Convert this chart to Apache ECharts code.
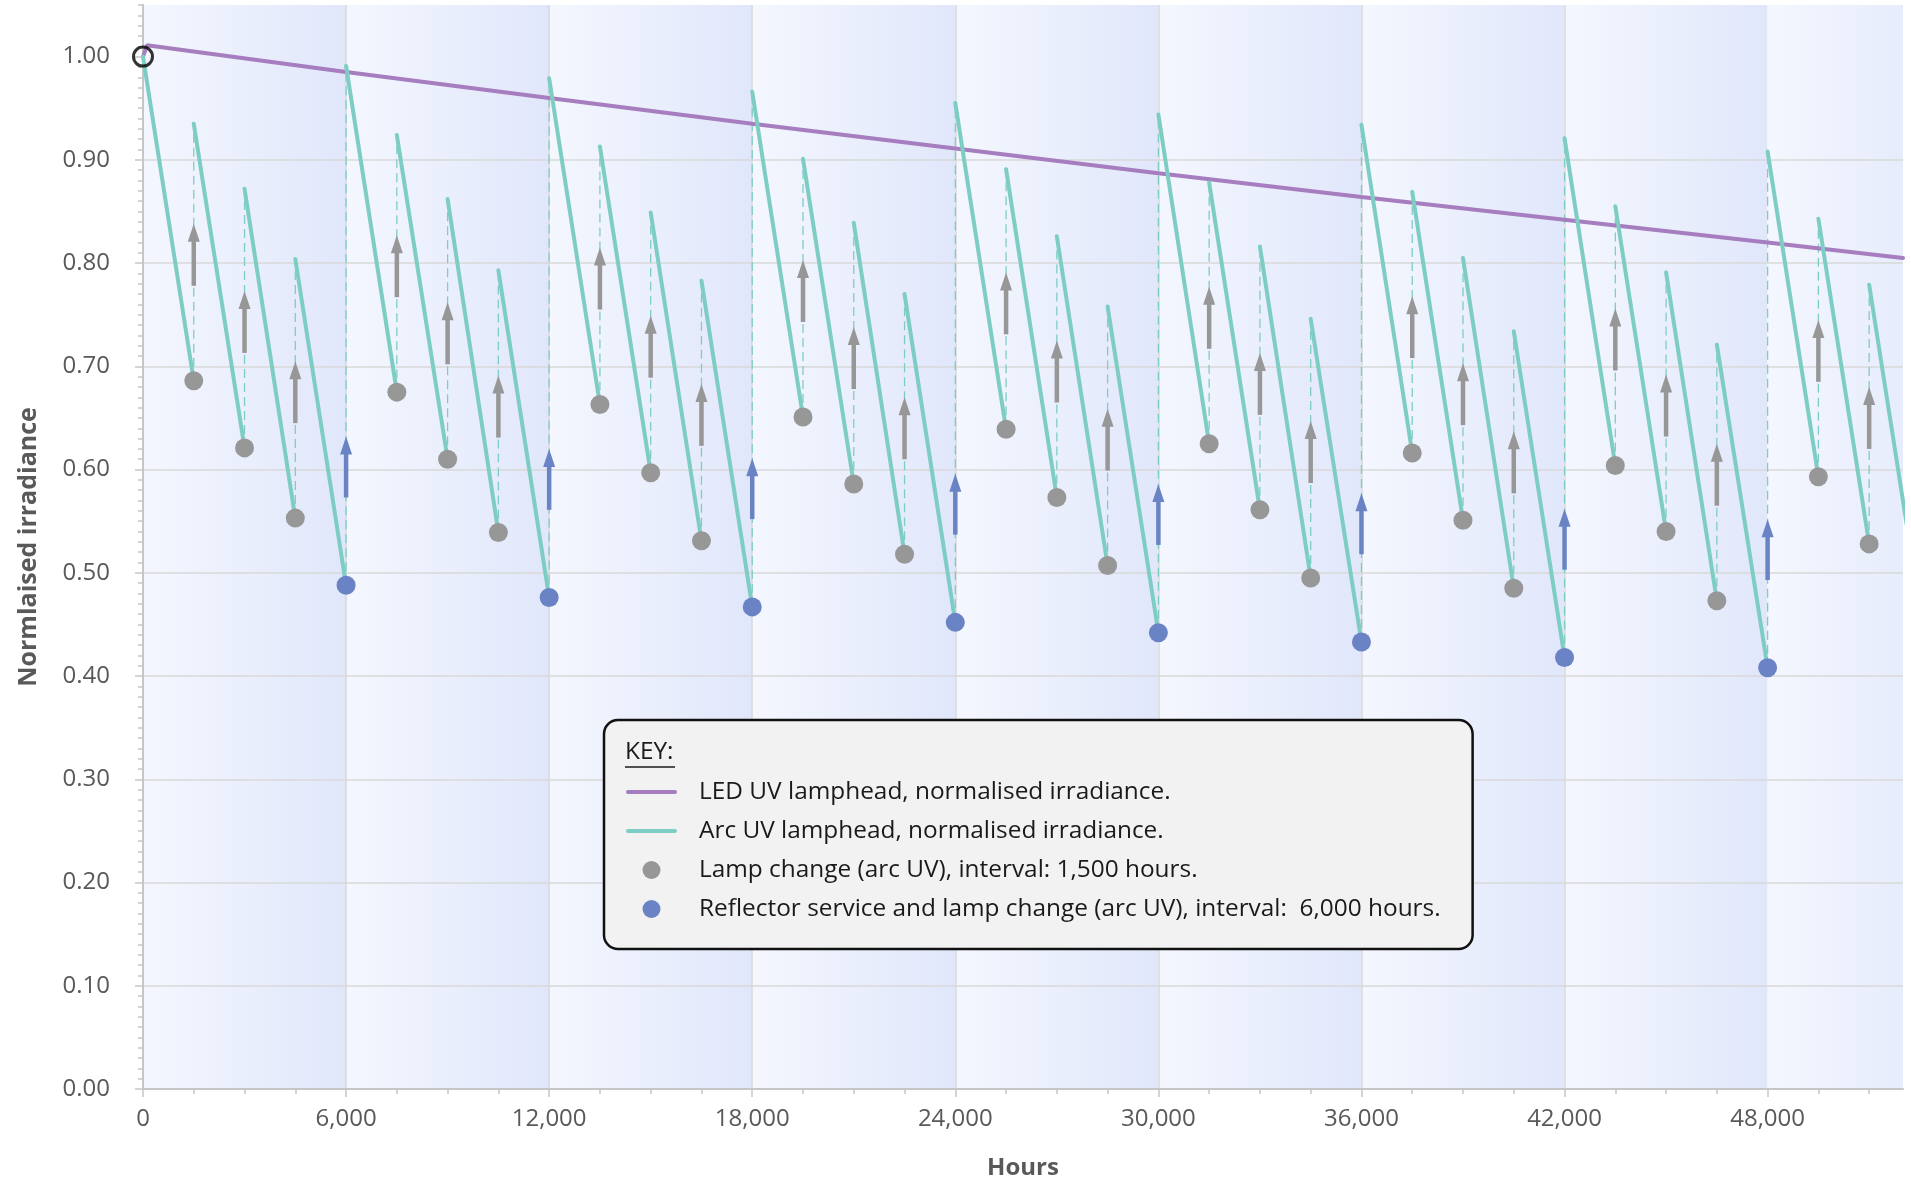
<!DOCTYPE html>
<html>
<head>
<meta charset="utf-8">
<script src="https://cdn.jsdelivr.net/npm/echarts@6/dist/echarts.min.js"></script>
<style>
html,body{margin:0;padding:0;background:#ffffff;}
#chart{width:1911px;height:1179px;}
</style>
</head>
<body>
<div id="chart"></div>
<script>
// ---------------- DATA ----------------
// Arc UV sawtooth: each segment starts at a peak and decays until the next lamp change
const segmentStartHours = [0,1500,3000,4500,6000,7500,9000,10500,12000,13500,15000,16500,18000,19500,21000,22500,24000,25500,27000,28500,30000,31500,33000,34500,36000,37500,39000,40500,42000,43500,45000,46500,48000,49500,51000];
const segmentPeak = [1.000,0.935,0.872,0.804,0.991,0.924,0.862,0.793,0.979,0.913,0.849,0.783,0.966,0.901,0.839,0.770,0.955,0.891,0.826,0.758,0.944,0.878,0.816,0.746,0.934,0.869,0.805,0.734,0.921,0.855,0.791,0.721,0.908,0.843,0.779];
const segmentEnd = [0.686,0.621,0.553,0.488,0.675,0.610,0.539,0.476,0.663,0.597,0.531,0.467,0.651,0.586,0.518,0.452,0.639,0.573,0.507,0.442,0.625,0.561,0.495,0.433,0.616,0.551,0.485,0.418,0.604,0.540,0.473,0.408,0.593,0.528,0.465];
const lastSegmentEndHours = 52500;

// Maintenance events
const lampChangeHours = [1500,3000,4500,7500,9000,10500,13500,15000,16500,19500,21000,22500,25500,27000,28500,31500,33000,34500,37500,39000,40500,43500,45000,46500,49500,51000];
const reflectorChangeHours = [6000,12000,18000,24000,30000,36000,42000,48000];

// LED UV lamphead
const ledHours = [0,120,6000,12000,18000,24000,30000,36000,42000,48000,52000];
const ledLevel = [1.000,1.011,0.985,0.960,0.935,0.911,0.887,0.864,0.842,0.820,0.805];

// Start marker (open circle)
const startMarker = [[0,1.00]];

// Background bands (6,000 h service periods)
const bandStart = [0,6000,12000,18000,24000,30000,36000,42000,48000];
const bandEnd = [6000,12000,18000,24000,30000,36000,42000,48000,54000];

// Axis ticks / labels
const xTickValues = [0,6000,12000,18000,24000,30000,36000,42000,48000];
const yTickValues = [0,0.1,0.2,0.3,0.4,0.5,0.6,0.7,0.8,0.9,1.0];

// Names
const NAME_LED = 'LED UV lamphead, normalised irradiance.';
const NAME_ARC = 'Arc UV lamphead, normalised irradiance.';
const NAME_LAMP = 'Lamp change (arc UV), interval: 1,500 hours.';
const NAME_REFL = 'Reflector service and lamp change (arc UV), interval:  6,000 hours.';

// ---------------- STYLE ----------------
const X_MAX = 52000, Y_MAX = 1.05;
const C_TEAL = '#7ecdc4', C_PURPLE = '#a67dbf', C_GRAY = '#979797', C_BLUE = '#6a83c5';
const C_LABEL = '#595959', C_GRID = '#d9d9d9', C_AXIS = '#c6c6c6';
const FONT = '"Open Sans", "Noto Sans", sans-serif';
const FS = 24;
const FS_LEGEND = 24.4;
const ARROW_LAMP = [0.092, 0.152];   // offsets above dot (value units)
const ARROW_REFL = [0.085, 0.144];
const LINE_ICON = 'path://M2,0L49,0A2,2,0,0,1,49,4L2,4A2,2,0,0,1,2,0Z';

// ---------------- BUILD ----------------
const arcData = [];
segmentStartHours.forEach((h, i) => {
  const e = i + 1 < segmentStartHours.length ? segmentStartHours[i + 1] : lastSegmentEndHours;
  arcData.push([h, segmentPeak[i]], [e, segmentEnd[i]], [e, '-']);
});
const dashData = [];
for (let i = 0; i + 1 < segmentStartHours.length; i++) {
  const e = segmentStartHours[i + 1];
  dashData.push([e, segmentEnd[i]], [e, segmentPeak[i + 1]], [e, '-']);
}
function levelAt(h) {
  const i = segmentStartHours.indexOf(h);
  return segmentEnd[i - 1];
}
const lampData = lampChangeHours.map(h => [h, levelAt(h)]);
const reflData = reflectorChangeHours.map(h => [h, levelAt(h)]);
const lampArrows = lampData.map(d => [d[0], d[1] + ARROW_LAMP[0], d[1] + ARROW_LAMP[1]]);
const reflArrows = reflData.map(d => [d[0], d[1] + ARROW_REFL[0], d[1] + ARROW_REFL[1]]);
const bandData = bandStart.map((s, i) => [s, bandEnd[i]]);

function arrowRender(color) {
  return function (params, api) {
    const x = api.value(0), y0 = api.value(1), y1 = api.value(2);
    const p0 = api.coord([x, y0]);
    const p1 = api.coord([x, y1]);
    const headH = 18, headW = 12;
    return {
      type: 'group',
      children: [
        { type: 'line', shape: { x1: p0[0], y1: p0[1], x2: p1[0], y2: p1[1] + headH - 2 },
          style: { stroke: color, lineWidth: 4.5 } },
        { type: 'polygon', shape: { points: [[p1[0], p1[1]], [p1[0] - headW / 2, p1[1] + headH], [p1[0] + headW / 2, p1[1] + headH]] },
          style: { fill: color } }
      ]
    };
  };
}

function bandRender(params, api) {
  const s = api.value(0), e = api.value(1);
  const tl = api.coord([s, Y_MAX]);
  const br = api.coord([e, 0]);
  return {
    type: 'rect',
    shape: { x: tl[0], y: tl[1], width: br[0] - tl[0], height: br[1] - tl[1] },
    style: {
      fill: new echarts.graphic.LinearGradient(0, 0, 1, 0, [
        { offset: 0, color: '#f4f7fe' },
        { offset: 1, color: '#e1e7fb' }
      ])
    }
  };
}

const chart = echarts.init(document.getElementById('chart'), null, { renderer: 'canvas' });

const option = {
  backgroundColor: '#ffffff',
  animation: false,
  textStyle: { fontFamily: FONT },
  grid: { left: 143, right: 8, top: 5, bottom: 90, containLabel: false, outerBoundsMode: 'none' },
  xAxis: [
    {
      type: 'value', min: 0, max: X_MAX, interval: 6000,
      name: 'Hours', nameLocation: 'middle', nameGap: 67,
      nameTextStyle: { fontSize: FS, fontWeight: 'bold', color: C_LABEL, fontFamily: FONT },
      axisLine: { show: true, lineStyle: { color: C_AXIS, width: 2 } },
      axisTick: { show: true, length: 8, lineStyle: { color: C_AXIS, width: 1.5 }, customValues: xTickValues },
      axisLabel: { fontSize: FS, color: C_LABEL, margin: 18, fontFamily: FONT, customValues: xTickValues,
        formatter: v => v > 48000 ? '' : v.toLocaleString('en-US') },
      splitLine: { show: true, showMinLine: false, showMaxLine: false, lineStyle: { color: C_GRID, width: 1.5 } }
    },
    {
      type: 'value', min: 0, max: X_MAX, interval: 1500, position: 'bottom',
      axisLine: { show: false },
      axisTick: { show: true, length: 5, lineStyle: { color: C_AXIS, width: 1.5 }, customValues: segmentStartHours },
      axisLabel: { show: false },
      splitLine: { show: false }
    }
  ],
  yAxis: [
    {
      type: 'value', min: 0, max: Y_MAX, interval: 0.1,
      name: 'Normlaised irradiance', nameLocation: 'middle', nameGap: 102,
      nameTextStyle: { fontSize: 25, fontWeight: 'bold', color: C_LABEL, fontFamily: FONT },
      axisLine: { show: true, lineStyle: { color: C_AXIS, width: 2 } },
      axisTick: { show: true, length: 8, lineStyle: { color: C_AXIS, width: 1.5 }, customValues: yTickValues },
      axisLabel: { fontSize: FS, color: C_LABEL, margin: 33, fontFamily: FONT, customValues: yTickValues,
        formatter: v => v > 1.001 ? '' : v.toFixed(2) },
      splitLine: { show: true, showMinLine: false, showMaxLine: false, lineStyle: { color: C_GRID, width: 1.5 } }
    },
    {
      type: 'value', min: 0, max: Y_MAX, interval: 0.01, position: 'left',
      axisLine: { show: false },
      axisTick: { show: true, length: 5, lineStyle: { color: C_AXIS, width: 1.5 } },
      axisLabel: { show: false },
      splitLine: { show: false }
    }
  ],
  legend: {
    orient: 'vertical',
    left: 604, top: 720,
    padding: [60, 32, 28, 22],
    backgroundColor: '#f2f2f2',
    borderColor: '#111111', borderWidth: 2.5, borderRadius: 14,
    itemWidth: 51, itemHeight: 18, itemGap: 15,
    selectedMode: false,
    itemStyle: { borderWidth: 0 },
    textStyle: { fontSize: FS_LEGEND, color: '#1a1a1a', fontFamily: FONT, padding: [0, 0, 0, 17] },
    data: [
      { name: NAME_LED, icon: LINE_ICON },
      { name: NAME_ARC, icon: LINE_ICON },
      { name: NAME_LAMP, icon: 'circle' },
      { name: NAME_REFL, icon: 'circle' }
    ]
  },
  graphic: [
    { type: 'text', left: 625, top: 740, z: 100,
      style: { text: 'KEY:', fontSize: FS_LEGEND, fill: '#1a1a1a', fontFamily: FONT } },
    { type: 'line', z: 100, shape: { x1: 625, y1: 767, x2: 675, y2: 767 },
      style: { stroke: '#1a1a1a', lineWidth: 1.5 } }
  ],
  series: [
    {
      name: 'bands', type: 'custom', z: -1, silent: true, clip: true,
      renderItem: bandRender, data: bandData, encode: { x: [0, 1] }
    },
    {
      name: 'resets', type: 'line', z: 2, silent: true, symbol: 'none',
      connectNulls: false, data: dashData,
      lineStyle: { color: C_TEAL, width: 1.3, type: [9, 5] }
    },
    {
      name: NAME_LED, type: 'line', z: 3, symbol: 'none', data: ledHours.map((h, i) => [h, ledLevel[i]]),
      color: C_PURPLE, itemStyle: { color: C_PURPLE }, lineStyle: { color: C_PURPLE, width: 4, cap: 'round' }
    },
    {
      name: NAME_ARC, type: 'line', z: 3, symbol: 'none', connectNulls: false, data: arcData,
      color: C_TEAL, itemStyle: { color: C_TEAL }, lineStyle: { color: C_TEAL, width: 4, cap: 'round' }
    },
    {
      name: 'lampArrows', type: 'custom', z: 4, silent: true, clip: true,
      renderItem: arrowRender(C_GRAY), data: lampArrows, encode: { x: 0, y: [1, 2] }
    },
    {
      name: 'reflArrows', type: 'custom', z: 4, silent: true, clip: true,
      renderItem: arrowRender(C_BLUE), data: reflArrows, encode: { x: 0, y: [1, 2] }
    },
    {
      name: NAME_LAMP, type: 'scatter', z: 5, symbol: 'circle', symbolSize: 19,
      data: lampData, itemStyle: { color: C_GRAY, opacity: 1 }
    },
    {
      name: NAME_REFL, type: 'scatter', z: 5, symbol: 'circle', symbolSize: 19,
      data: reflData, itemStyle: { color: C_BLUE, opacity: 1 }
    },
    {
      name: 'start', type: 'scatter', z: 6, symbol: 'circle', symbolSize: 19, silent: true,
      data: startMarker, itemStyle: { color: 'rgba(0,0,0,0)', borderColor: '#000000', borderWidth: 3 }
    }
  ]
};
chart.setOption(option);
</script>
</body>
</html>
